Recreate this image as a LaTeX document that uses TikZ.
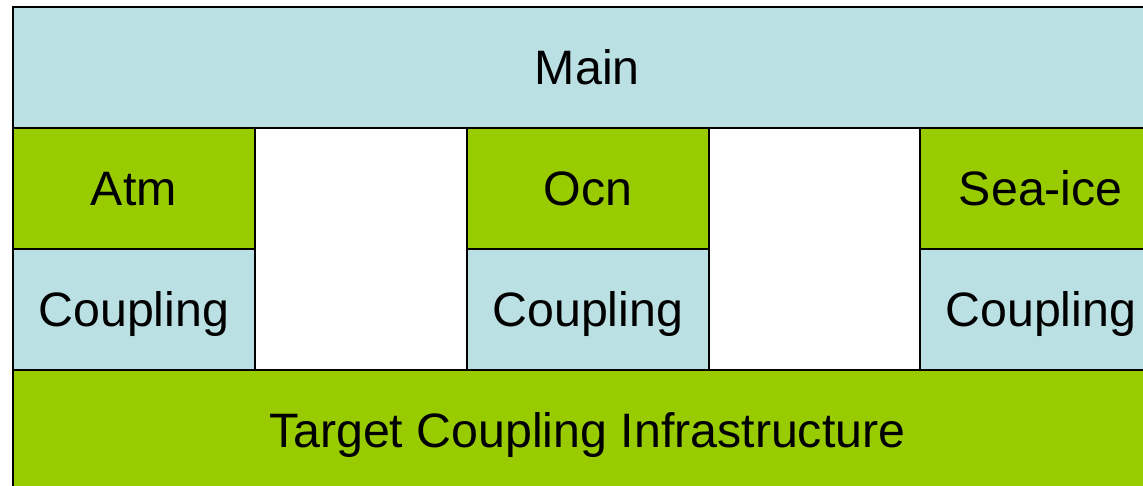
\documentclass[tikz,border=0pt]{standalone}
\usepackage{fontspec}
\setmainfont{Liberation Sans}
\usetikzlibrary{positioning}
\definecolor{layerblue}{RGB}{186,224,227}
\definecolor{layergreen}{RGB}{153,204,0}

\begin{document}
\begin{tikzpicture}[x=0.02cm,y=-0.02cm,
    layer/.style={draw,line width=1pt,inner sep=0pt,anchor=north west,
      minimum height=2.42cm,text height=19.5pt,text depth=0pt,
      font=\fontsize{27.5}{32}\selectfont},
    wide/.style={layer,minimum width=22.98cm},
    comp/.style={layer,minimum width=4.84cm}]
    \useasboundingbox (0,0) rectangle (1143,485);
    \clip (0,0) rectangle (1143,485);
    % top and bottom layers
    \node[wide,fill=layerblue] (main) at (12,6) {Main};
    \node[wide,fill=layergreen] (target) at (12,369) {Target Coupling Infrastructure};
    % component models
    \node[comp,fill=layergreen] (atm) at (12,127) {Atm};
    \node[comp,fill=layergreen] (ocn) at (466,127) {Ocn};
    \node[comp,fill=layergreen] (ice) at (919,127) {Sea-ice};
    % coupling layers
    \node[comp,fill=layerblue] (atmcpl) at (12,248) {Coupling};
    \node[comp,fill=layerblue] (ocncpl) at (466,248) {Coupling};
    \node[comp,fill=layerblue] (icecpl) at (919,248) {Coupling};
\end{tikzpicture}
\end{document}
